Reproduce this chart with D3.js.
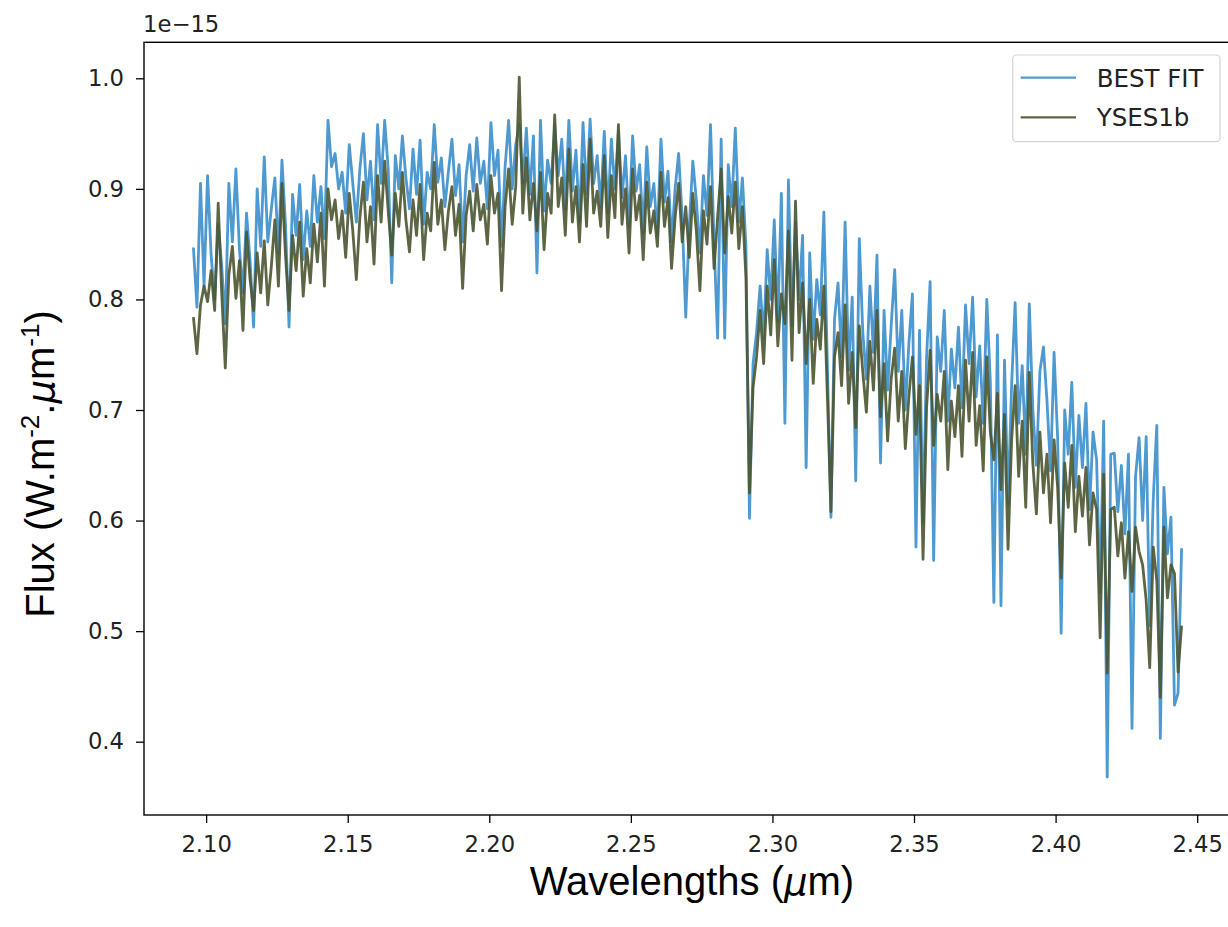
<!DOCTYPE html>
<html><head><meta charset="utf-8">
<script src="https://cdn.jsdelivr.net/npm/d3@7/dist/d3.min.js"></script>
<style>body{margin:0;background:#fff;overflow:hidden}</style>
</head><body>
<svg id="chart" width="1228" height="927"></svg>
<script>
// wavelength sampling (µm): evenly spaced spectral grid
const wlStart = 2.0955;
const wlEnd = 2.4445;

// flux values in units of 1e-15 W.m-2.µm-1
const bestFit = [
0.847,0.793,0.905,0.812,0.912,0.840,0.800,0.868,0.830,0.778,0.905,0.852,0.918,0.845,0.806,0.878,0.835,0.775,0.900,0.848,
0.929,0.852,0.882,0.910,0.842,0.926,0.868,0.775,0.895,0.858,0.904,0.836,0.880,0.848,0.912,0.870,0.902,0.855,0.962,0.920,
0.932,0.900,0.915,0.878,0.940,0.905,0.870,0.918,0.950,0.890,0.925,0.872,0.958,0.905,0.962,0.918,0.815,0.930,0.900,0.948,
0.910,0.882,0.936,0.895,0.944,0.868,0.915,0.900,0.958,0.906,0.928,0.884,0.916,0.945,0.894,0.922,0.852,0.912,0.940,0.898,
0.946,0.905,0.925,0.882,0.960,0.912,0.935,0.848,0.920,0.962,0.900,0.940,0.958,0.905,0.955,0.895,0.948,0.824,0.962,0.880,
0.926,0.905,0.958,0.912,0.945,0.882,0.962,0.898,0.935,0.870,0.960,0.895,0.963,0.905,0.930,0.884,0.952,0.878,0.945,0.900,
0.952,0.892,0.930,0.866,0.948,0.898,0.922,0.860,0.938,0.884,0.905,0.858,0.945,0.888,0.916,0.852,0.900,0.932,0.874,0.784,
0.866,0.925,0.890,0.842,0.912,0.876,0.958,0.852,0.765,0.945,0.765,0.922,0.884,0.955,0.870,0.910,0.848,0.602,0.742,0.770,
0.812,0.765,0.845,0.800,0.872,0.780,0.896,0.688,0.908,0.776,0.870,0.800,0.858,0.648,0.842,0.764,0.818,0.786,0.879,0.740,
0.603,0.782,0.815,0.748,0.870,0.736,0.802,0.636,0.855,0.770,0.728,0.812,0.752,0.840,0.652,0.790,0.718,0.776,0.827,0.735,
0.790,0.700,0.760,0.805,0.576,0.772,0.598,0.748,0.816,0.564,0.766,0.735,0.790,0.690,0.755,0.720,0.775,0.702,0.795,0.742,
0.802,0.712,0.758,0.688,0.800,0.726,0.526,0.768,0.523,0.745,0.615,0.722,0.797,0.688,0.740,0.660,0.796,0.700,0.650,0.735,
0.757,0.708,0.645,0.752,0.675,0.498,0.700,0.660,0.725,0.630,0.695,0.648,0.706,0.610,0.680,0.655,0.535,0.690,0.368,0.660,
0.661,0.608,0.650,0.588,0.660,0.412,0.640,0.675,0.600,0.676,0.505,0.620,0.686,0.403,0.630,0.570,0.603,0.433,0.444,0.575
];

const yses1b = [
0.784,0.751,0.795,0.812,0.798,0.826,0.790,0.887,0.805,0.738,0.822,0.848,0.801,0.835,0.772,0.861,0.818,0.790,0.842,0.806,
0.853,0.795,0.830,0.872,0.812,0.905,0.840,0.790,0.858,0.826,0.870,0.803,0.846,0.815,0.868,0.834,0.878,0.812,0.900,0.872,
0.890,0.855,0.880,0.838,0.896,0.862,0.818,0.874,0.906,0.852,0.884,0.832,0.912,0.870,0.925,0.880,0.840,0.896,0.866,0.915,
0.872,0.843,0.890,0.858,0.904,0.836,0.878,0.862,0.924,0.868,0.890,0.845,0.880,0.902,0.858,0.886,0.810,0.876,0.898,0.862,
0.904,0.872,0.886,0.850,0.912,0.878,0.896,0.808,0.884,0.918,0.868,0.902,1.001,0.878,0.928,0.872,0.905,0.862,0.915,0.845,
0.896,0.878,0.967,0.884,0.910,0.858,0.936,0.870,0.902,0.852,0.922,0.866,0.945,0.878,0.898,0.866,0.930,0.856,0.912,0.874,
0.958,0.868,0.900,0.842,0.918,0.872,0.894,0.836,0.906,0.860,0.880,0.848,0.915,0.866,0.892,0.828,0.874,0.905,0.852,0.884,
0.838,0.896,0.862,0.808,0.880,0.850,0.902,0.828,0.874,0.918,0.842,0.893,0.860,0.906,0.846,0.884,0.820,0.625,0.720,0.748,
0.790,0.742,0.812,0.768,0.836,0.758,0.805,0.778,0.862,0.745,0.889,0.770,0.815,0.742,0.800,0.724,0.782,0.755,0.812,0.712,
0.608,0.748,0.770,0.722,0.795,0.706,0.752,0.684,0.776,0.734,0.698,0.762,0.718,0.790,0.694,0.742,0.672,0.728,0.756,0.690,
0.735,0.665,0.712,0.748,0.678,0.722,0.565,0.702,0.754,0.668,0.714,0.690,0.735,0.646,0.708,0.676,0.722,0.658,0.745,0.690,
0.752,0.668,0.704,0.645,0.748,0.680,0.655,0.715,0.628,0.696,0.574,0.672,0.722,0.640,0.690,0.612,0.734,0.652,0.606,0.680,
0.625,0.660,0.598,0.673,0.630,0.548,0.652,0.612,0.668,0.590,0.640,0.604,0.648,0.578,0.625,0.610,0.494,0.642,0.462,0.610,
0.612,0.568,0.598,0.548,0.590,0.536,0.594,0.572,0.560,0.528,0.467,0.576,0.546,0.440,0.594,0.530,0.560,0.552,0.463,0.505
];

const seriesNames = ["BEST FIT", "YSES1b"];
const xTicks = [2.10, 2.15, 2.20, 2.25, 2.30, 2.35, 2.40, 2.45];
const yTicks = [0.4, 0.5, 0.6, 0.7, 0.8, 0.9, 1.0];
const offsetLabel = "1e\u221215";

// ---------- drawing ----------
const svg = d3.select("#chart");
const L = 144, R = 1231, T = 42.3, B = 815;
const x = d3.scaleLinear().domain([2.07805, 2.46195]).range([L, R]);
const y = d3.scaleLinear().domain([0.3337, 1.03256]).range([B, T]);

const n = bestFit.length;
const wl = d3.range(n).map(i => wlStart + i * (wlEnd - wlStart) / (n - 1));

const colors = {"BEST FIT": "#2f88c8", "YSES1b": "#4b5530"};
const opac = {"BEST FIT": 0.85, "YSES1b": 0.9};
const seriesData = {"BEST FIT": bestFit, "YSES1b": yses1b};

svg.append("defs").append("clipPath").attr("id", "clip")
  .append("rect").attr("x", L).attr("y", T).attr("width", R - L).attr("height", B - T);

const line = d3.line().x((d, i) => x(wl[i])).y(d => y(d));
const plot = svg.append("g").attr("clip-path", "url(#clip)");
seriesNames.forEach(name => {
  plot.append("path")
    .datum(seriesData[name])
    .attr("d", line)
    .attr("fill", "none")
    .attr("stroke", colors[name])
    .attr("stroke-opacity", opac[name])
    .attr("stroke-width", 2.8)
    .attr("stroke-linejoin", "round");
});

// axes
const tickFont = "DejaVu Sans, sans-serif";
const xAxis = d3.axisBottom(x).tickValues(xTicks).tickFormat(d3.format(".2f")).tickSize(8).tickPadding(13);
const gx = svg.append("g").attr("transform", `translate(0,${B})`).call(xAxis);
const yAxis = d3.axisLeft(y).tickValues(yTicks).tickFormat(d3.format(".1f")).tickSize(8).tickPadding(12);
const gy = svg.append("g").attr("transform", `translate(${L},0)`).call(yAxis);
[gx, gy].forEach(g => {
  g.select(".domain").remove();
  g.selectAll(".tick line").attr("stroke", "#000").attr("stroke-width", 1.3);
  g.selectAll(".tick text").attr("fill", "#222").style("font-family", tickFont).style("font-size", "22.7px");
});

// frame
svg.append("rect").attr("x", L).attr("y", T).attr("width", R - L).attr("height", B - T)
  .attr("fill", "none").attr("stroke", "#000").attr("stroke-width", 1.4);

// offset text
svg.append("text").attr("x", 143).attr("y", 32.3).text(offsetLabel)
  .attr("fill", "#222").style("font-family", tickFont).style("font-size", "22.7px");

// axis labels
const labFont = "Liberation Sans, Arial, sans-serif";
const xl = svg.append("text").attr("x", 692).attr("y", 895).attr("text-anchor", "middle")
  .style("font-family", labFont).style("font-size", "40px").attr("fill", "#000");
xl.append("tspan").text("Wavelengths (");
xl.append("tspan").text("\u03bc").style("font-style", "italic").style("font-family", "DejaVu Sans, sans-serif").style("font-size", "37px");
xl.append("tspan").text("m)");

const yl = svg.append("text").attr("transform", "translate(54,464) rotate(-90)").attr("text-anchor", "middle")
  .style("font-family", labFont).style("font-size", "40px").attr("fill", "#000");
yl.append("tspan").text("Flux (W.m");
yl.append("tspan").text("-2").attr("dy", -15).style("font-size", "26px");
yl.append("tspan").text(".").attr("dy", 15);
yl.append("tspan").text("\u03bc").style("font-style", "italic").style("font-family", "DejaVu Sans, sans-serif").style("font-size", "37px");
yl.append("tspan").text("m");
yl.append("tspan").text("-1").attr("dy", -15).style("font-size", "26px");
yl.append("tspan").text(")").attr("dy", 15);

// legend
const lg = svg.append("g");
lg.append("rect").attr("x", 1012.7).attr("y", 55).attr("width", 207.3).attr("height", 86.7).attr("rx", 4)
  .attr("fill", "#fff").attr("fill-opacity", 0.8).attr("stroke", "#d3d3d3").attr("stroke-width", 1.2);
const rows = lg.selectAll("g.row").data(seriesNames).enter().append("g")
  .attr("transform", (d, i) => `translate(0,${77.7 + i * 39.6})`);
rows.append("line").attr("x1", 1020.7).attr("x2", 1076).attr("y1", 0).attr("y2", 0)
  .attr("stroke", d => colors[d]).attr("stroke-opacity", d => opac[d]).attr("stroke-width", 2.2);
rows.append("text").attr("x", 1096.7).attr("y", 9).text(d => d)
  .attr("fill", "#222").style("font-family", tickFont).style("font-size", "24.5px");
</script>
</body></html>
